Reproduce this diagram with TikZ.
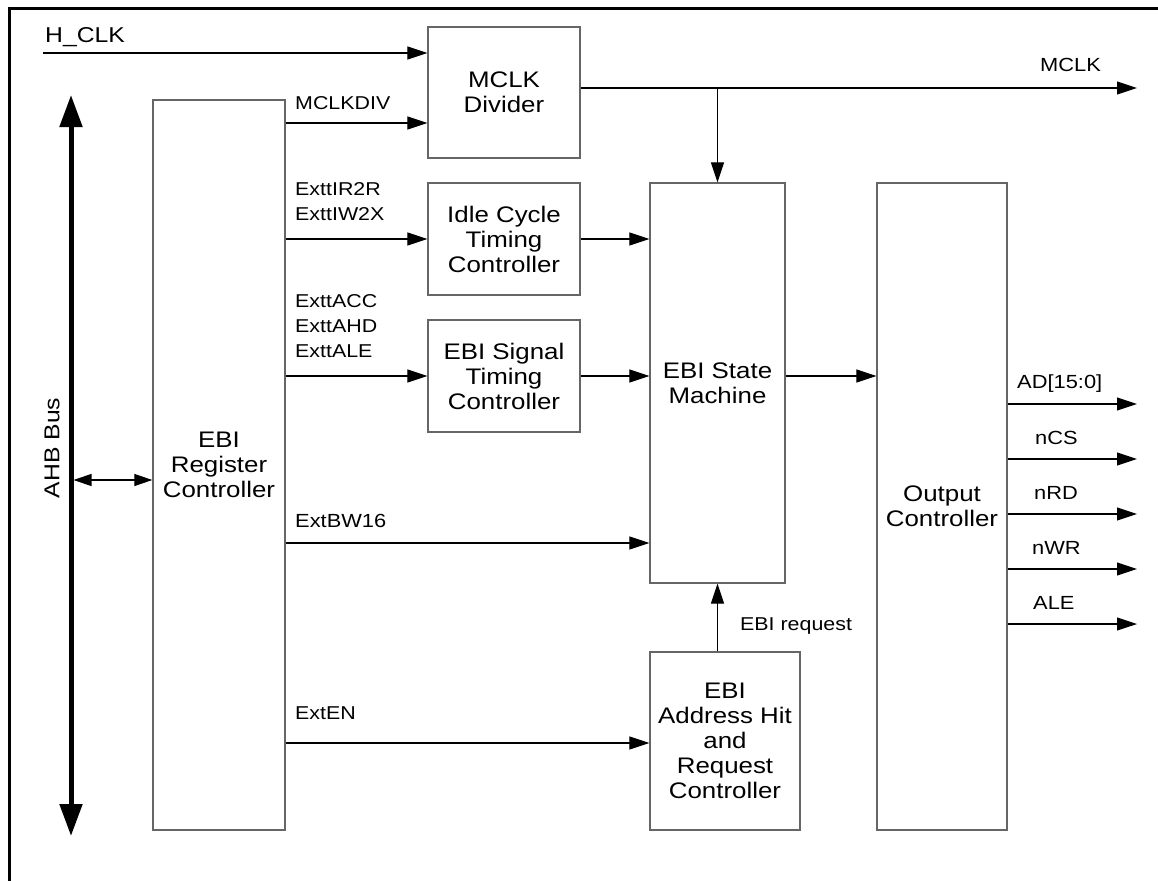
\documentclass[tikz,border=0pt]{standalone}
\usepackage{fontspec}
\setmainfont{Liberation Sans}[FakeStretch=1.15]
\usetikzlibrary{arrows.meta}
\begin{document}
\begin{tikzpicture}[x=1pt,y=-1pt,
  blk/.style={draw=black!60, line width=1.3pt, fill=white, align=center, font=\fontsize{22.5}{25}\selectfont, inner sep=0pt},
  arr/.style={line width=1.1pt, -{Triangle[length=20pt,width=13pt]}},
  lbl/.style={font=\fontsize{19}{25}\selectfont, anchor=base west, inner sep=0pt},
  blbl/.style={font=\fontsize{21.5}{25}\selectfont, anchor=base west, inner sep=0pt},
  slbl/.style={font=\fontsize{18.6}{25}\selectfont, anchor=base west, inner sep=0pt, align=left},
  bus/.style={line width=5pt, {Triangle[length=32pt,width=22pt]}-{Triangle[length=32pt,width=22pt]}},
  dbl/.style={line width=1.1pt, {Triangle[length=18pt,width=12pt]}-{Triangle[length=18pt,width=12pt]}}
]
\useasboundingbox (0,0) rectangle (1158,880);
% frame
\draw[line width=3pt] (9,884) -- (9,9) -- (1162,9);

% blocks
\node[blk, minimum width=152pt, minimum height=131pt] (div) at (504,92.5) {MCLK\\Divider};
\node[blk, minimum width=132pt, minimum height=730pt] (reg) at (219,465) {EBI\\Register\\Controller};
\node[blk, minimum width=152pt, minimum height=112pt] (idle) at (504,239) {Idle Cycle\\Timing\\Controller};
\node[blk, minimum width=152pt, minimum height=112pt] (sig) at (504,376) {EBI Signal\\Timing\\Controller};
\node[blk, minimum width=135pt, minimum height=400pt] (sm) at (717.5,383) {EBI State\\Machine};
\node[blk, minimum width=130pt, minimum height=647pt] (oc) at (942,506.5) {Output\\Controller};
\node[blk, minimum width=150pt, minimum height=178pt] (hit) at (725,741) {EBI\\Address Hit\\and\\Request\\Controller};

% AHB bus
\coordinate (busT) at (71,95);
\coordinate (busB) at (71,836);
\coordinate (busR) at (73.5,480);
\draw[bus] (busT) -- (busB);
\node[rotate=90, font=\fontsize{21.5}{25}\selectfont, inner sep=0pt] (ahbl) at (52,448) {AHB Bus};
\draw[dbl] (busR) -- (reg.west |- busR);

% clocks
\coordinate (hclk) at (43,53);
\coordinate (mclk) at (1137,88);
\draw[arr] (hclk) -- (div.west |- hclk);
\node[blbl] (hclkl) at (45,43) {H\_CLK};
\draw[arr] (div.east |- mclk) -- (mclk);
\node[lbl] (mclkl) at (1040,72) {MCLK};
\draw[arr] (sm.north |- mclk) -- (sm.north);

% register outputs
\draw[arr] (reg.east |- 0,123) -- (div.west |- 0,123);
\node[slbl] (divl) at (295,110) {MCLKDIV};
\draw[arr] (reg.east |- idle.west) -- (idle.west);
\node[slbl] (idlel1) at (295,195) {ExttIR2R};
\node[slbl] (idlel2) at (295,220) {ExttIW2X};
\draw[arr] (reg.east |- sig.west) -- (sig.west);
\node[slbl] (sigl1) at (295,307) {ExttACC};
\node[slbl] (sigl2) at (295,332) {ExttAHD};
\node[slbl] (sigl3) at (295,357) {ExttALE};
\draw[arr] (reg.east |- 0,543) -- (sm.west |- 0,543);
\node[lbl] (bwl) at (295,527) {ExtBW16};
\draw[arr] (reg.east |- 0,743) -- (hit.west |- 0,743);
\node[slbl] (enl) at (295,719) {ExtEN};

% timing to state machine
\draw[arr] (idle.east) -- (sm.west |- idle.east);
\draw[arr] (sig.east) -- (sm.west |- sig.east);
\draw[arr] (sm.east |- sig.east) -- (oc.west |- sig.east);
\draw[arr] (sm.south |- hit.north) -- (sm.south);
\node[slbl] (reql) at (740,630) {EBI request};

% outputs
\coordinate (oAD) at (1137,404);
\coordinate (oCS) at (1137,459);
\coordinate (oRD) at (1137,514);
\coordinate (oWR) at (1137,569);
\coordinate (oALE) at (1137,624);
\draw[arr] (oc.east |- oAD) -- (oAD);
\draw[arr] (oc.east |- oCS) -- (oCS);
\draw[arr] (oc.east |- oRD) -- (oRD);
\draw[arr] (oc.east |- oWR) -- (oWR);
\draw[arr] (oc.east |- oALE) -- (oALE);
\node[lbl] (adl) at (1017,388) {AD[15:0]};
\node[lbl] (csl) at (1035,444) {nCS};
\node[lbl] (rdl) at (1034,499) {nRD};
\node[lbl] (wrl) at (1032,554) {nWR};
\node[lbl] (alel) at (1033,609) {ALE};
\end{tikzpicture}
\end{document}
